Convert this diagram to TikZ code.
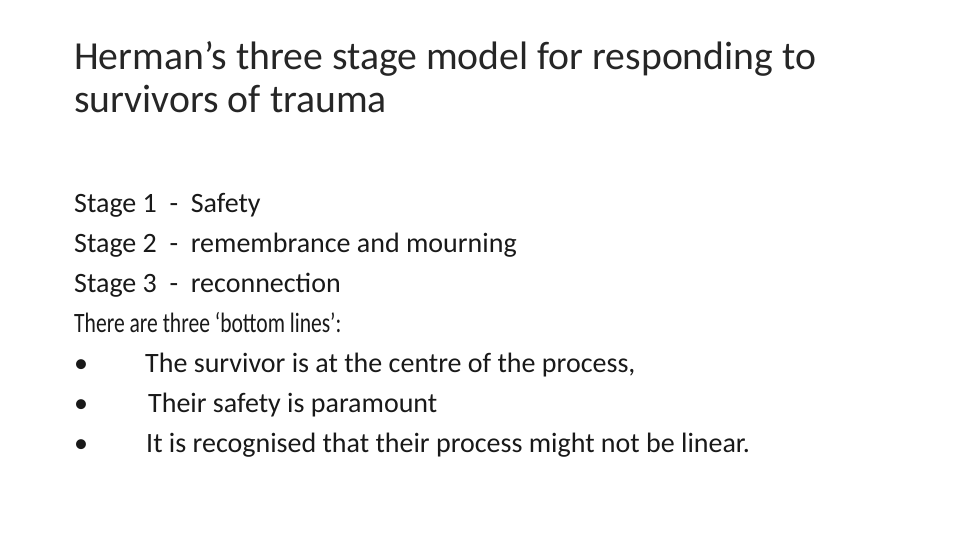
\documentclass[tikz,border=0pt]{standalone}
\usepackage{fontspec}
\usepackage{graphicx}
\setmainfont{Carlito}
\begin{document}
\begin{tikzpicture}[x=1pt,y=-1pt,
  ttl/.style={anchor=base west,inner sep=0,font=\fontsize{39.7}{44}\selectfont,text=black!85},
  bd/.style={anchor=base west,inner sep=0,font=\fontsize{28}{32}\selectfont,text=black!90}]
\useasboundingbox[fill=white] (0,0) rectangle (960,540);
\node[ttl] (t1) at (74,70) {Herman’s three stage model for responding to};
\node[ttl] (t2) at (74,113) {survivors of trauma};
\node[bd] (l1) at (74,212) {Stage 1\ \ -\ \ Safety};
\node[bd] (l2) at (74,252) {Stage 2\ \ -\ \ remembrance and mourning};
\node[bd] (l3) at (74,292) {Stage 3\ \ -\ \ reconnection};
\node[bd] (l4) at (74,332) {\scalebox{0.77}[1]{There are three ‘bottom lines’:}};
\node[bd] (b1) at (74,372) {•};
\node[bd] (s1) at (145,372) {The survivor is at the centre of the process,};
\node[bd] (b2) at (74,412) {•};
\node[bd] (s2) at (148,412) {Their safety is paramount};
\node[bd] (b3) at (74,452) {•};
\node[bd] (s3) at (146,452) {It is recognised that their process might not be linear.};
\end{tikzpicture}
\end{document}
